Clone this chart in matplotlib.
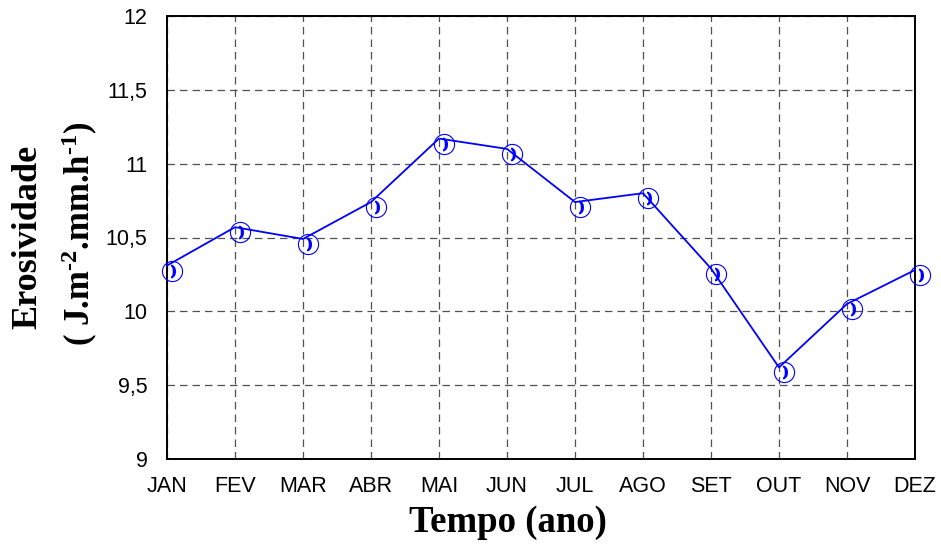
import matplotlib
matplotlib.use("Agg")
import matplotlib.pyplot as plt
from matplotlib.ticker import FuncFormatter
from matplotlib.transforms import offset_copy

# monthly erosivity values
months = ["JAN", "FEV", "MAR", "ABR", "MAI", "JUN", "JUL", "AGO", "SET", "OUT", "NOV", "DEZ"]
erosividade = [10.31, 10.57, 10.49, 10.74, 11.17, 11.10, 10.74, 10.80, 10.29, 9.62, 10.05, 10.28]
yticks = [9, 9.5, 10, 10.5, 11, 11.5, 12]

plt.rcParams["mathtext.fontset"] = "custom"
plt.rcParams["mathtext.rm"] = "Liberation Serif:bold"
plt.rcParams["mathtext.bf"] = "Liberation Serif:bold"
plt.rcParams["mathtext.it"] = "Liberation Serif:bold"

fig = plt.figure(figsize=(9.41, 5.44), dpi=100)
ax = fig.add_axes([167 / 941, 1 - 459 / 544, 748 / 941, 443 / 544])

x = list(range(len(months)))
ax.plot(x, erosividade, color="#0000ff", lw=1.3, zorder=3, clip_on=False)

# the symbols sit a few pixels right/below the data vertex, as in the original
off = offset_copy(ax.transData, fig=fig, x=5, y=-5, units="dots")
ax.plot(x, erosividade, ls="none", marker="o", ms=14.5, mfc="none", mec="#0000ff",
        mew=0.8, transform=off, zorder=4, clip_on=False)
off2 = offset_copy(ax.transData, fig=fig, x=6, y=-5, units="dots")
ax.plot(x, erosividade, ls="none", marker=r"$\mathbf{)}$", ms=9, color="#0000ff",
        transform=off2, zorder=5, clip_on=False)

ax.set_xlim(0, 11)
ax.set_ylim(9, 12)
ax.set_xticks(x)
ax.set_xticklabels(months)
ax.set_yticks(yticks)
ax.yaxis.set_major_formatter(FuncFormatter(lambda v, p: ("%g" % v).replace(".", ",")))

for lab in ax.get_xticklabels() + ax.get_yticklabels():
    lab.set_fontfamily("Liberation Sans")
    lab.set_fontsize(15.5)
ax.tick_params(axis="both", length=0)
ax.tick_params(axis="y", pad=14)
ax.tick_params(axis="x", pad=12)

ax.grid(True, color="#505050", lw=0.9, ls=(0, (6, 4)))
ax.set_axisbelow(True)
for s in ax.spines.values():
    s.set_linewidth(1.4)
    s.set_color("black")

fig.text(508 / 941, 1 - 522 / 544, "Tempo (ano)", family="Liberation Serif",
         weight="bold", fontsize=26.5, ha="center", va="center")
fig.text(28 / 941, 1 - 237 / 544, "Erosividade", family="Liberation Serif",
         weight="bold", fontsize=26, rotation=90, ha="center", va="center")
fig.text(80 / 941, 1 - 234 / 544, r"( J.m$^{\text{-2}}$.mm.h$^{\text{-1}}$)",
         family="Liberation Serif", weight="bold", fontsize=25, rotation=90,
         ha="center", va="center")

fig.savefig("out.png", dpi=100)
